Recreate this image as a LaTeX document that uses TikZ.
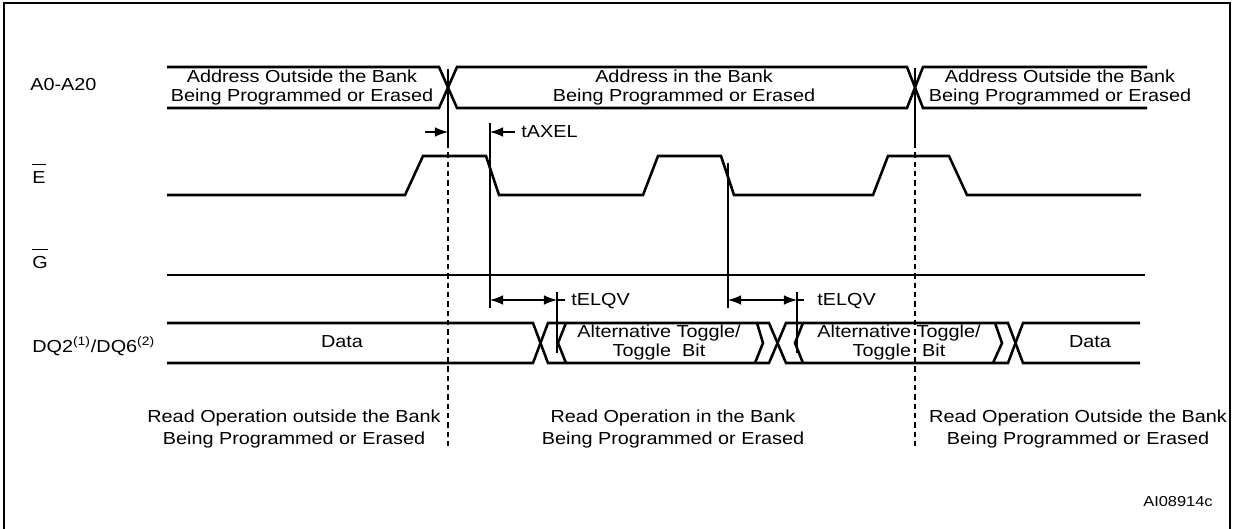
\documentclass[tikz,border=0pt]{standalone}
\usepackage{fontspec}
\setmainfont{Liberation Sans}[FakeStretch=1.14]
\usetikzlibrary{arrows.meta}

\begin{document}
\begin{tikzpicture}[x=0.02cm, y=-0.02cm,
    >={Latex[length=7.5pt, width=5.5pt]},
    wave/.style={line width=1.45pt},
    tline/.style={line width=0.65pt},
    guide/.style={line width=0.65pt, dash pattern=on 3pt off 2.3pt},
    txt/.style={font=\fontsize{9.9}{10.8}\selectfont, inner sep=0pt, align=center},
    note/.style={font=\fontsize{9.9}{12.5}\selectfont, inner sep=0pt, align=center}]
  \useasboundingbox (0,0) rectangle (1235,528);
  \draw[line width=1.4pt] (4,540) -- (4,3) -- (1230,3) -- (1230,540);

  % signal names
  \node[txt, anchor=base west] (nA) at (30,90) {A0-A20};
  \node[txt, anchor=base west] (nE) at (32,183) {$\overline{\mbox{E}\rule{0pt}{9.5pt}}$};
  \node[txt, anchor=base west] (nG) at (32,268) {$\overline{\mbox{G}\rule{0pt}{9.5pt}}$};
  \node[txt, anchor=base west] (nDQ) at (32,352) {DQ2\textsuperscript{(1)}/DQ6\textsuperscript{(2)}};

  % address bus
  \draw[wave] (167,67) -- (439,67) -- (457,108) -- (907,108) -- (923,67) -- (1147,67);
  \draw[wave] (167,108) -- (439,108) -- (457,67) -- (907,67) -- (923,108) -- (1147,108);
  \node[txt] (a1) at (302,87.5) {Address Outside the Bank\\Being Programmed or Erased};
  \node[txt] (a2) at (684,87.5) {Address in the Bank\\Being Programmed or Erased};
  \node[txt] (a3) at (1060,87.5) {Address Outside the Bank\\Being Programmed or Erased};

  % E and G
  \draw[wave] (167,195) -- (405,195) -- (423,156) -- (486,156) -- (499,195) -- (643,195) -- (658,156)
    -- (721,156) -- (734,195) -- (873,195) -- (888,156) -- (949,156) -- (967,195) -- (1141,195);
  \draw[wave] (167,275) -- (1145,275);

  % data bus
  \draw[wave] (167,323) -- (533,323) -- (548,363) -- (769,363) -- (786,323) -- (1008,323) -- (1023,363) -- (1140,363);
  \draw[wave] (167,363) -- (533,363) -- (548,323) -- (769,323) -- (786,363) -- (1008,363) -- (1023,323) -- (1140,323);
  \draw[wave] (566,323) -- (558,343) -- (566,363);
  \draw[wave] (757,323) -- (763,343) -- (755,363);
  \draw[wave] (803,323) -- (795,343) -- (803,363);
  \draw[wave] (995,323) -- (1002,343) -- (993,363);
  \node[txt] (d1) at (342,342) {Data};
  \node[txt] (d2) at (659,342.5) {Alternative Toggle/\\Toggle\ \ Bit};
  \node[txt] (d3) at (899,342.5) {Alternative Toggle/\\Toggle\ \ Bit};
  \node[txt] (d4) at (1090,342) {Data};

  % timing marks
  \coordinate (b1) at (448,69);
  \coordinate (b1m) at (448,143);
  \coordinate (b1e) at (448,447);
  \coordinate (b2) at (915,68);
  \coordinate (b2m) at (915,143);
  \coordinate (b2e) at (915,447);
  \draw[tline] (b1) -- (b1m);
  \draw[guide] (b1m) -- (b1e);
  \draw[tline] (b2) -- (b2m);
  \draw[guide] (b2m) -- (b2e);
  \draw[tline] (490,123) -- (490,308);
  \draw[tline] (728,163) -- (728,308);
  \draw[tline] (557,292) -- (557,353);
  \draw[tline] (797,292) -- (797,353);

  \coordinate (x1) at (425,132);
  \coordinate (x2) at (448,132);
  \coordinate (x3) at (490,132);
  \coordinate (x4) at (515,132);
  \draw[tline, ->] (x1) -- (x2);
  \draw[tline, ->] (x4) -- (x3);
  \node[txt, anchor=west] (tax) at (521,132) {tAXEL};

  \coordinate (q1) at (490,300);
  \coordinate (q2) at (557,300);
  \coordinate (q3) at (565,300);
  \coordinate (q4) at (728,300);
  \coordinate (q5) at (797,300);
  \coordinate (q6) at (804,300);
  \draw[tline, <->] (q1) -- (q2);
  \draw[tline] (q2) -- (q3);
  \draw[tline, <->] (q4) -- (q5);
  \draw[tline] (q5) -- (q6);
  \node[txt, anchor=west] (tq1) at (571,301) {tELQV};
  \node[txt, anchor=west] (tq2) at (817,301) {tELQV};

  % operations
  \node[note] (r1) at (294,429) {Read Operation outside the Bank\\Being Programmed or Erased};
  \node[note] (r2) at (673,429) {Read Operation in the Bank\\Being Programmed or Erased};
  \node[note] (r3) at (1078,429) {Read Operation Outside the Bank\\Being Programmed or Erased};
  \node[font=\fontsize{8.2}{9}\selectfont, inner sep=0pt] (ai) at (1178,502) {AI08914c};
\end{tikzpicture}
\end{document}
